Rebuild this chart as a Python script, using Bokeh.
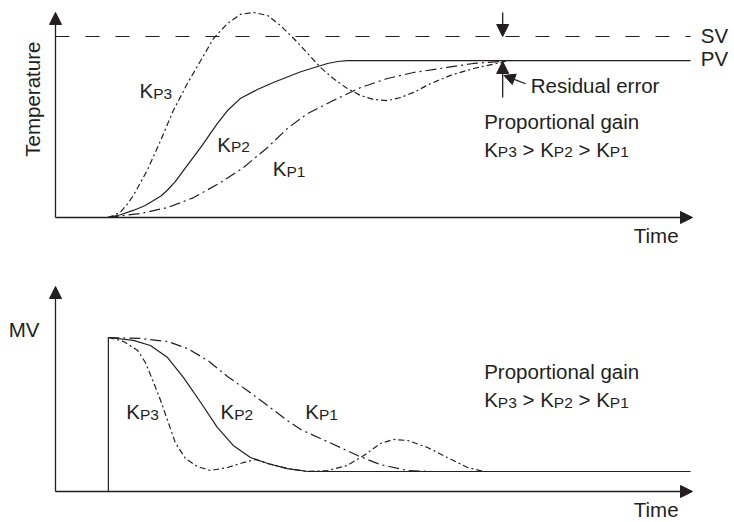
import math
from bokeh.plotting import figure
from bokeh.models import Range1d, Arrow, NormalHead
from bokeh.core.properties import value
from bokeh.embed import file_html
from bokeh.resources import INLINE

# ---------------- data (time in % of axis length, temperature in % of SV, MV in %) ----------------
SV = 100.0
PV = 86.7
MV_FINAL = 13.0
T_END = 99.7          # end of SV / PV / final-MV lines
T_AXIS = 100.0        # arrow tip of the time axes
TEMP_AXIS_TOP = 113.3
MV_AXIS_TOP = 133.1
STEP_T = 8.3          # time of the step input

kp3_temp_t = [8.2, 9.1, 10.2, 11.3, 12.2, 14.4, 16.5, 18.5, 20.7, 22.8, 24.8, 27.0, 29.0, 31.1,
              33.3, 35.3, 37.4, 39.6, 41.6, 43.6, 45.8, 47.9, 49.9, 52.1, 54.2, 56.2, 58.9,
              62.0, 65.6, 69.9, 71.0]
kp3_temp = [0.0, 1.1, 3.0, 7.5, 12.0, 26.0, 42.5, 59.1, 74.0, 86.7, 98.9, 107.2, 112.2, 113.3,
            111.6, 106.1, 98.9, 90.6, 82.9, 76.8, 71.3, 67.4, 65.2, 64.6, 66.3, 69.1, 74.0,
            78.5, 82.3, 85.6, 86.7]

kp2_temp_t = [8.2, 10.2, 12.2, 14.0, 15.4, 16.6, 17.6, 18.8, 20.1, 22.8, 25.4, 27.0, 29.0, 31.7, 34.2,
              38.5, 42.7, 44.3, 45.8, T_END]
kp2_temp = [0.0, 1.5, 3.9, 6.5, 9.4, 12.0, 15.2, 19.8, 26.0, 38.7, 51.9, 59.1, 65.7, 70.7, 74.6,
            80.5, 85.1, 86.2, 86.7, 86.7]

kp1_temp_t = [8.2, 13.3, 17.6, 21.7, 25.9, 29.5, 33.3, 36.4, 39.6, 43.6, 47.9, 52.1, 56.2, 61.5,
              65.6, 69.9, 71.4]
kp1_temp = [0.0, 2.2, 5.5, 11.0, 19.3, 27.6, 38.7, 49.2, 57.5, 64.6, 71.8, 76.8, 80.1, 82.9,
            85.1, 86.2, 86.7]

kp3_mv_t = [8.3, 10.7, 12.9, 14.1, 15.4, 16.5, 17.6, 18.8, 20.4, 22.3, 24.3, 27.0, 29.5, 31.4,
            33.3, 36.4, 39.6, 42.7, 45.8, 48.4, 51.0, 53.1, 55.3, 58.4, 61.5, 64.7, 67.2]
kp3_mv = [100.0, 97.4, 91.6, 83.8, 70.8, 59.1, 46.1, 31.8, 21.4, 16.2, 13.6, 15.6, 18.8, 20.8,
          18.2, 14.9, 13.0, 13.6, 16.9, 23.4, 31.2, 33.8, 33.1, 28.6, 22.1, 15.6, 13.0]

kp2_mv_t = [8.3, 12.2, 14.9, 17.6, 20.1, 22.8, 25.4, 27.9, 30.6, 33.3, 36.4, 39.6, T_END]
kp2_mv = [100.0, 98.1, 94.8, 87.0, 74.0, 57.8, 41.6, 29.9, 22.1, 18.2, 14.9, 13.0, 13.0]

kp1_mv_t = [8.3, 13.3, 17.6, 20.7, 23.9, 27.0, 30.1, 33.3, 36.4, 38.5, 41.6, 44.7, 47.6, 51.0, 55.3, 58.9]
kp1_mv = [100.0, 99.4, 97.4, 92.9, 85.1, 74.7, 65.6, 55.8, 46.1, 40.3, 34.4, 28.6, 23.0, 17.5, 13.6, 13.0]

# texts
Y_TOP_LABEL = "Temperature"
Y_BOT_LABEL = "MV"
X_LABEL = "Time"
GAIN_TITLE = "Proportional gain"
RESIDUAL = "Residual error"

# ---------------- layout / style ----------------
W, H = 734, 522
X0 = 55.0            # canvas px of t = 0
PX_T = 6.37          # px per time unit
Y0_TEMP = 217.0      # canvas px (from top) of temperature 0
PX_TEMP = 1.81
Y0_MV = 491.0        # canvas px (from top) of MV 0
PX_MV = 1.54
PX_PER_UNIT = {"default": PX_TEMP, "mv": PX_MV}
BASELINE_FIX = 0.415  # em: measured renderer offset of the alphabetic baseline

INK = "#231f20"
FONT = value("Liberation Sans")
BIG = 20.5
SMALL = 15.5
LW = 1.2

p = figure(width=W, height=H, output_backend="svg", toolbar_location=None,
           x_axis_type=None, y_axis_type=None, min_border=0,
           x_range=Range1d(-X0 / PX_T, (W - X0) / PX_T),
           y_range=Range1d(-(H - Y0_TEMP) / PX_TEMP, Y0_TEMP / PX_TEMP))
p.extra_y_ranges = {"mv": Range1d(-(H - Y0_MV) / PX_MV, Y0_MV / PX_MV)}
p.outline_line_color = None
p.background_fill_color = "white"
p.border_fill_color = "white"

DASH3 = "6 3 2 3"
DASH1 = "11 4 2 4"


def arrow(x0, y0, x1, y1, size=12, rng="default"):
    p.add_layout(Arrow(x_start=x0, y_start=y0, x_end=x1, y_end=y1, y_range_name=rng,
                       line_color=INK, line_width=1.3, start=None,
                       end=NormalHead(size=size, fill_color=INK, line_color=INK, line_width=1)))


def txt(x, y, s, size=BIG, align="left", angle=0.0, rng="default", xoff=0.0):
    fix = BASELINE_FIX * size
    if angle:
        x -= fix / PX_T
    else:
        y += fix / PX_PER_UNIT[rng]
    p.text(x=[x], y=[y], text=[s], text_font=FONT, text_font_size=f"{size}px",
           text_color=INK, text_align=align, text_baseline="alphabetic", angle=angle,
           x_offset=xoff, y_range_name=rng)


CW = {"K": 0.667, "P": 0.667, "1": 0.556, "2": 0.556, "3": 0.556, ">": 0.584, " ": 0.278}


def kp(x, y, n, rng="default", xoff=0.0):
    txt(x, y, "K", BIG, rng=rng, xoff=xoff)
    txt(x, y, "P" + n, SMALL, rng=rng, xoff=xoff + CW["K"] * BIG)
    return xoff + CW["K"] * BIG + (CW["P"] + CW[n]) * SMALL


def inequality(x, y, rng="default"):
    off = 0.0
    for i, n in enumerate(["3", "2", "1"]):
        off = kp(x, y, n, rng=rng, xoff=off)
        if i < 2:
            off += CW[" "] * BIG
            txt(x, y, ">", BIG, rng=rng, xoff=off)
            off += (CW[">"] + CW[" "]) * BIG


# ---------------- top panel: temperature ----------------
arrow(0, 0, 0, TEMP_AXIS_TOP)
arrow(0, 0, T_AXIS, 0)
p.line([0, T_END], [SV, SV], line_color=INK, line_width=LW, line_dash="14 16")
p.line(kp2_temp_t, kp2_temp, line_color=INK, line_width=LW)
p.line(kp3_temp_t, kp3_temp, line_color=INK, line_width=LW, line_dash=DASH3)
p.line(kp1_temp_t, kp1_temp, line_color=INK, line_width=LW, line_dash=DASH1)

RES_T = 70.2
arrow(RES_T, TEMP_AXIS_TOP, RES_T, SV)
arrow(RES_T, 66.3, RES_T, PV - 0.5)
arrow(73.8, 73.9, 70.4, 78.5, size=11)

txt(101.3, 96.1, "SV")
txt(101.3, 82.9, "PV")
txt(74.6, 68.5, RESIDUAL)
txt(67.3, 48.6, GAIN_TITLE)
inequality(67.3, 33.1)
kp(13.2, 65.2, "3")
kp(25.4, 35.9, "2")
kp(34.1, 22.1, "1")
txt(-2.35, 65.4, Y_TOP_LABEL, align="center", angle=math.pi / 2)
txt(94.3, -14.4, X_LABEL, align="center")

# ---------------- bottom panel: MV ----------------
arrow(0, 0, 0, MV_AXIS_TOP, rng="mv")
arrow(0, 0, T_AXIS, 0, rng="mv")
p.line([STEP_T, STEP_T], [0, kp2_mv[0]], line_color=INK, line_width=LW, y_range_name="mv")
p.line(kp2_mv_t, kp2_mv, line_color=INK, line_width=LW, y_range_name="mv")
p.line(kp3_mv_t, kp3_mv, line_color=INK, line_width=LW, line_dash=DASH3, y_range_name="mv")
p.line(kp1_mv_t, kp1_mv, line_color=INK, line_width=LW, line_dash=DASH1, y_range_name="mv")

txt(67.3, 72.7, GAIN_TITLE, rng="mv")
inequality(67.3, 53.9, rng="mv")
kp(11.1, 46.1, "3", rng="mv")
kp(25.9, 46.1, "2", rng="mv")
kp(39.2, 46.1, "1", rng="mv")
txt(-7.35, 99.4, Y_BOT_LABEL, rng="mv")
txt(94.3, -16.9, X_LABEL, align="center", rng="mv")

open("out.html", "w").write(file_html(p, INLINE))
